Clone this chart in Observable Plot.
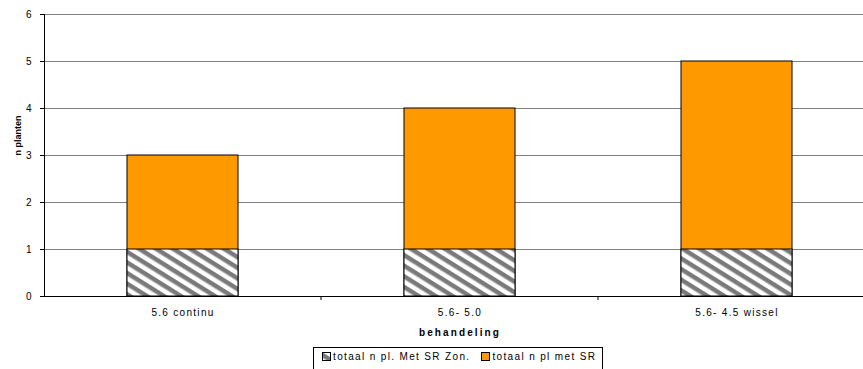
<!DOCTYPE html>
<html>
<head>
<meta charset="utf-8">
<script src="https://cdn.jsdelivr.net/npm/d3@7"></script>
<script src="https://cdn.jsdelivr.net/npm/@observablehq/plot@0.6"></script>
<style>
  html, body { margin: 0; background: #fff; overflow: hidden; font-family: "Liberation Sans", Arial, sans-serif; }
  #wrap { position: relative; width: 863px; height: 369px; overflow: hidden; }
  #chart { width: 875px; }
  #legend {
    position: absolute; left: 313px; top: 347px; width: 290px; height: 30px;
    border: 1px solid #000; background: #fff; box-sizing: border-box;
    font-size: 10px; letter-spacing: 1.35px; color: #000;
    padding: 3px 0 0 8px; white-space: nowrap;
  }
  #legend .item { display: inline-flex; align-items: center; margin-right: 11px; }
  #legend .sw { width: 9px; height: 9px; margin-right: 2px; display: inline-block; box-sizing: border-box; border: 1px solid #000; }
</style>
</head>
<body>
<div id="wrap">
  <div id="chart"></div>
  <div id="legend"></div>
</div>
<script>
// Treatments and plant counts
const categories = ["5.6 continu", "5.6- 5.0", "5.6- 4.5 wissel"];
const zonValues = [1, 1, 1];      // totaal n pl. Met SR Zon.
const totalValues = [3, 4, 5];    // totaal n pl met SR
const yTicks = [0, 1, 2, 3, 4, 5, 6];
const seriesNames = ["totaal n pl. Met SR Zon.", "totaal n pl met SR"];
const xTitle = "behandeling";
const yTitle = "n planten";
const orange = "#FF9900";

const rows = categories.map((c, i) => ({cat: c, zon: zonValues[i], total: totalValues[i]}));

// tick marks on the category axis at the band boundaries
function bandBoundaryTicks(index, scales, values, dims) {
  const n = categories.length;
  const x0 = dims.marginLeft, x1 = dims.width - dims.marginRight;
  const step = (x1 - x0) / n;
  const y = dims.height - dims.marginBottom;
  const g = d3.create("svg:g").attr("stroke", "#000");
  for (let i = 1; i < n; i++) {
    g.append("line").attr("x1", x0 + i * step).attr("x2", x0 + i * step)
      .attr("y1", y).attr("y2", y + 4);
  }
  return g.node();
}

// the plotting area runs a little past the right edge of the page
const chart = Plot.plot({
  width: 875,
  height: 345,
  marginLeft: 44,
  marginRight: 0,
  marginTop: 14,
  marginBottom: 49,
  style: {fontFamily: "Liberation Sans, Arial, sans-serif", fontSize: "10px", color: "#000", background: "#fff", maxWidth: "none"},
  x: {domain: categories, paddingInner: 0.599, paddingOuter: 0.2995, label: null},
  y: {domain: [0, 6], label: null},
  marks: [
    Plot.gridY(yTicks, {stroke: "#808080", strokeOpacity: 1, strokeWidth: 1}),
    Plot.barY(rows, {x: "cat", y: "total", fill: orange, stroke: "#000", strokeWidth: 1}),
    Plot.barY(rows, {x: "cat", y: "zon", fill: "url(#hatch)", stroke: "#000", strokeWidth: 1}),
    Plot.ruleY([0], {stroke: "#000"}),
    Plot.frame({anchor: "left", stroke: "#000"}),
    Plot.axisY({ticks: yTicks, tickFormat: "d", tickSize: 4, tickPadding: 9, fontSize: 10}),
    Plot.axisX({tickSize: 0, tickPadding: 12, fontSize: 10}),
    bandBoundaryTicks,
    Plot.text([yTitle], {frameAnchor: "left", textAnchor: "middle", rotate: -90, dx: -26, dy: -20, fontWeight: "bold", fontSize: 9}),
    Plot.text([xTitle], {frameAnchor: "bottom", lineAnchor: "middle", dy: 36, fontWeight: "bold", fontSize: 10})
  ]
});

// spaced-out lettering for the category labels and the axis title
const svgSel = d3.select(chart);
svgSel.selectAll('[aria-label="x-axis tick label"] text').style("letter-spacing", "1.3px");
svgSel.selectAll("text").filter(function () { return this.textContent === xTitle; })
  .style("letter-spacing", "2.1px");

// diagonal hatch fill for the lower segment
function addHatch(svg, id) {
  const defs = d3.select(svg).insert("defs", ":first-child");
  const p = defs.append("pattern").attr("id", id).attr("patternUnits", "userSpaceOnUse")
    .attr("width", 9).attr("height", 9).attr("patternTransform", "rotate(32)");
  p.append("rect").attr("width", 9).attr("height", 9).attr("fill", "#fff");
  p.append("rect").attr("width", 9).attr("height", 4.5).attr("fill", "#7a7a7a");
}
addHatch(chart, "hatch");
document.getElementById("chart").appendChild(chart);

// legend
const legend = d3.select("#legend");
const it1 = legend.append("span").attr("class", "item");
const sw1 = it1.append("svg").attr("width", 9).attr("height", 9).style("margin-right", "2px");
addHatch(sw1.node(), "hatchLegend");
sw1.append("rect").attr("x", 0.5).attr("y", 0.5).attr("width", 8).attr("height", 8)
  .attr("fill", "url(#hatchLegend)").attr("stroke", "#000");
it1.append("span").text(seriesNames[0]);
const it2 = legend.append("span").attr("class", "item");
it2.append("span").attr("class", "sw").style("background", orange);
it2.append("span").text(seriesNames[1]);
</script>
</body>
</html>
